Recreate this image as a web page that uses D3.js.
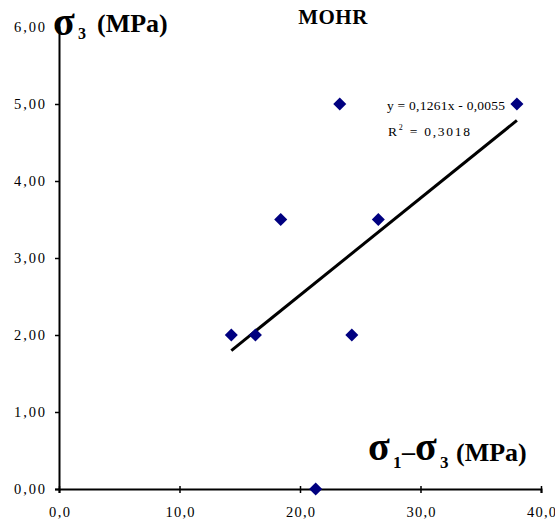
<!DOCTYPE html>
<html><head><meta charset="utf-8">
<script src="https://cdn.jsdelivr.net/npm/d3@7"></script>
<style>body{margin:0;background:#fff}svg{display:block}text{font-family:"Liberation Serif","Times New Roman",serif}</style>
</head><body>
<script>
const xValues = [14.3, 16.3, 18.4, 21.3, 23.3, 24.3, 26.5, 38.0];
const yValues = [2.0, 2.0, 3.5, 0.0, 5.0, 2.0, 3.5, 5.0];
const xTicks = [0, 10, 20, 30, 40];
const yTicks = [0, 1, 2, 3, 4, 5, 6];
const slope = 0.1261, intercept = -0.0055;
const title = "MOHR";
const eqText = "y = 0,1261x - 0,0055";
const r2Text = "0,3018";

const W = 555, H = 519;
const svg = d3.select("body").append("svg").attr("width", W).attr("height", H);
const x = d3.scaleLinear().domain([0, 40]).range([59, 541]);
const y = d3.scaleLinear().domain([0, 6]).range([489, 27]);
const fmtX = d => d.toFixed(1).replace(".", ",");
const fmtY = d => d.toFixed(2).replace(".", ",");
const serif = "Liberation Serif, Times New Roman, serif";

// x axis
const gx = svg.append("g").attr("transform", `translate(0,${y(0)})`)
  .call(d3.axisBottom(x).tickValues(xTicks).tickFormat(fmtX).tickSize(4).tickPadding(14));
gx.attr("font-family", serif);
gx.select(".domain").attr("stroke", "#000").attr("stroke-width", 2);
gx.selectAll(".tick line").attr("stroke-width", 1.5).attr("y1", -3);
gx.selectAll(".tick text").attr("font-size", 14.5).attr("fill", "#000")
  .attr("textLength", d => d === 0 ? 21 : 29).attr("lengthAdjust", "spacing");

// y axis
const gy = svg.append("g").attr("transform", `translate(${x(0)},0)`)
  .call(d3.axisLeft(y).tickValues(yTicks).tickFormat(fmtY).tickSize(4).tickPadding(10));
gy.attr("font-family", serif);
gy.select(".domain").attr("stroke", "#000").attr("stroke-width", 2);
gy.selectAll(".tick line").attr("stroke-width", 1.5).attr("x1", 0);
gy.selectAll(".tick text").attr("font-size", 14.5).attr("fill", "#000")
  .attr("textLength", 31).attr("lengthAdjust", "spacing");

// trend line
const xmin = d3.min(xValues), xmax = d3.max(xValues);
svg.append("line")
  .attr("x1", x(xmin)).attr("y1", y(slope * xmin + intercept))
  .attr("x2", x(xmax)).attr("y2", y(slope * xmax + intercept))
  .attr("stroke", "#000").attr("stroke-width", 3);

// points
const diamond = d3.symbol().type(d3.symbolSquare).size(85);
svg.append("g").selectAll("path").data(xValues.map((v, i) => [v, yValues[i]]))
  .join("path")
  .attr("d", diamond)
  .attr("transform", d => `translate(${x(d[0])},${y(d[1])}) rotate(45)`)
  .attr("fill", "#000080");

// title
svg.append("text").attr("x", 333).attr("y", 24).attr("text-anchor", "middle")
  .attr("font-size", 21).attr("font-weight", "bold").attr("letter-spacing", 0.5).text(title);

// y label
const yl = svg.append("text").attr("font-weight", "bold");
yl.append("tspan").attr("x", 53).attr("y", 35).attr("font-size", 40).text("σ");
yl.append("tspan").attr("x", 78).attr("y", 39).attr("font-size", 16).text("3");
yl.append("tspan").attr("x", 97).attr("y", 32).attr("font-size", 26).text("(MPa)");

// x label
const xl = svg.append("text").attr("font-weight", "bold");
xl.append("tspan").attr("x", 368).attr("y", 460).attr("font-size", 40).text("σ");
xl.append("tspan").attr("x", 393).attr("y", 468).attr("font-size", 17).text("1");
xl.append("tspan").attr("x", 402).attr("y", 460).attr("font-size", 26).text("–");
xl.append("tspan").attr("x", 415).attr("y", 460).attr("font-size", 40).text("σ");
xl.append("tspan").attr("x", 440).attr("y", 468).attr("font-size", 17).text("3");
xl.append("tspan").attr("x", 456).attr("y", 461).attr("font-size", 26).text("(MPa)");

// equation
svg.append("text").attr("x", 387).attr("y", 110).attr("font-size", 13.5)
  .attr("textLength", 118).attr("lengthAdjust", "spacing").text(eqText);
const r = svg.append("text").attr("x", 388).attr("y", 136).attr("font-size", 13.5)
  .attr("textLength", 82).attr("lengthAdjust", "spacing");
r.append("tspan").text("R");
r.append("tspan").attr("font-size", 8).attr("dy", -6).text("2");
r.append("tspan").attr("dy", 6).text(" = " + r2Text);
</script>
</body></html>
